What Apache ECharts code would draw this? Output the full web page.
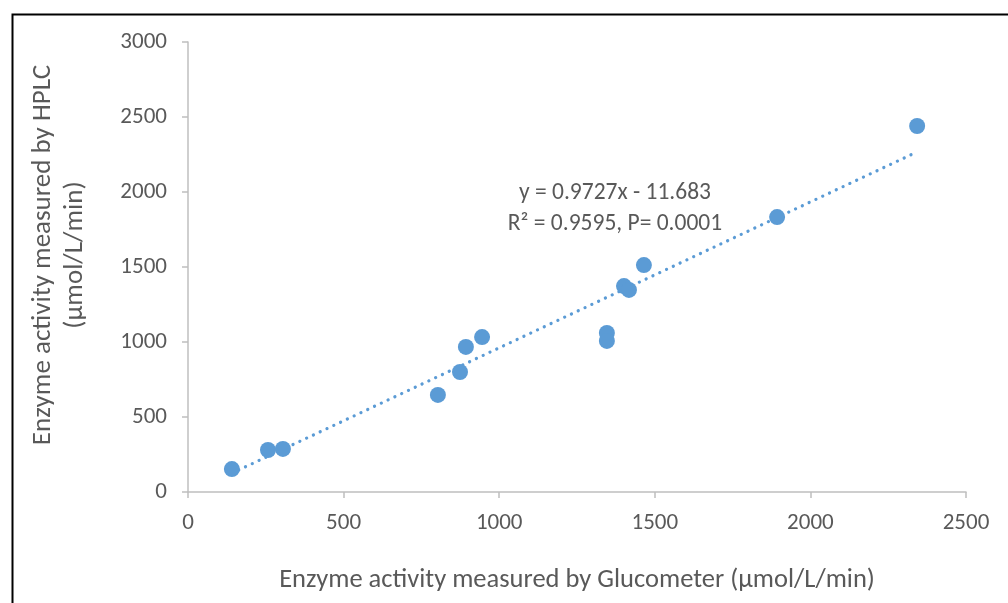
<!DOCTYPE html>
<html>
<head>
<meta charset="utf-8">
<script src="https://cdn.jsdelivr.net/npm/echarts@6/dist/echarts.min.js"></script>
<style>
html,body{margin:0;padding:0;background:#fff;}
#main{width:1008px;height:603px;}
</style>
</head>
<body>
<div id="main"></div>
<script>
// Data
const glucometer = [141, 257, 305, 803, 874, 893, 945, 1346, 1346, 1401, 1417, 1465, 1893, 2343];
const hplc       = [153, 280, 287, 647, 800, 967, 1033, 1060, 1007, 1373, 1347, 1513, 1833, 2440];
const xTicks = [0, 500, 1000, 1500, 2000, 2500];
const yTicks = [0, 500, 1000, 1500, 2000, 2500, 3000];
const slope = 0.9727;
const intercept = -11.683;
const eqLine1 = 'y = 0.9727x - 11.683';
const eqLine2 = 'R² = 0.9595, P= 0.0001';
const xTitle = 'Enzyme activity measured by Glucometer (µmol/L/min)';
const yTitle = 'Enzyme activity measured by HPLC\n(µmol/L/min)';

const points = glucometer.map((x, i) => [x, hplc[i]]);
const xMin = Math.min(...glucometer), xMax = Math.max(...glucometer);
const trend = [[xMin, slope * xMin + intercept], [xMax, slope * xMax + intercept]];

const FONT = 'Carlito, Calibri, "Liberation Sans", sans-serif';
const TXT = '#595959';
const AX = '#bfbfbf';
const BLUE = '#5B9BD5';

const chart = echarts.init(document.getElementById('main'), null, {renderer: 'canvas'});
chart.setOption({
  animation: false,
  backgroundColor: '#fff',
  grid: {left: 188, right: 42, top: 42, bottom: 111},
  xAxis: {
    type: 'value', min: xTicks[0], max: xTicks[xTicks.length - 1], interval: 500,
    splitLine: {show: false},
    axisLine: {show: true, lineStyle: {color: AX, width: 1.5}},
    axisTick: {show: true, inside: false, length: 6, lineStyle: {color: AX, width: 1.5}},
    axisLabel: {color: TXT, fontSize: 23, fontFamily: FONT, margin: 20, formatter: v => String(v)},
    name: xTitle, nameLocation: 'middle', nameGap: 75,
    nameTextStyle: {color: TXT, fontSize: 26.5, fontFamily: FONT}
  },
  yAxis: {
    type: 'value', min: yTicks[0], max: yTicks[yTicks.length - 1], interval: 500,
    splitLine: {show: false},
    axisLine: {show: true, lineStyle: {color: AX, width: 1.5}},
    axisTick: {show: true, inside: false, length: 6, lineStyle: {color: AX, width: 1.5}},
    axisLabel: {color: TXT, fontSize: 23, fontFamily: FONT, margin: 21, formatter: v => String(v)}
  },
  series: [
    {
      type: 'line', data: trend, showSymbol: false, symbol: 'none',
      lineStyle: {color: BLUE, width: 3.2, type: [0.1, 7.4], cap: 'round'},
      z: 2, silent: true
    },
    {
      type: 'scatter', data: points, symbolSize: 16,
      itemStyle: {color: BLUE, opacity: 1}, z: 3
    }
  ],
  graphic: [
    {type: 'rect', left: 10, top: 12, shape: {width: 1100, height: 700},
     style: {fill: 'none', stroke: '#000', lineWidth: 2}, z: 100},
    {type: 'text', x: 615, y: 209, z: 50,
     style: {text: eqLine1 + '\n' + eqLine2, fill: TXT, font: '23.5px ' + FONT,
             align: 'center', verticalAlign: 'middle', lineHeight: 31}},
    {type: 'text', x: 59, y: 255, rotation: Math.PI / 2, z: 50,
     style: {text: yTitle, fill: TXT, font: '27px ' + FONT,
             align: 'center', verticalAlign: 'middle', lineHeight: 32}}
  ]
});
</script>
</body>
</html>
